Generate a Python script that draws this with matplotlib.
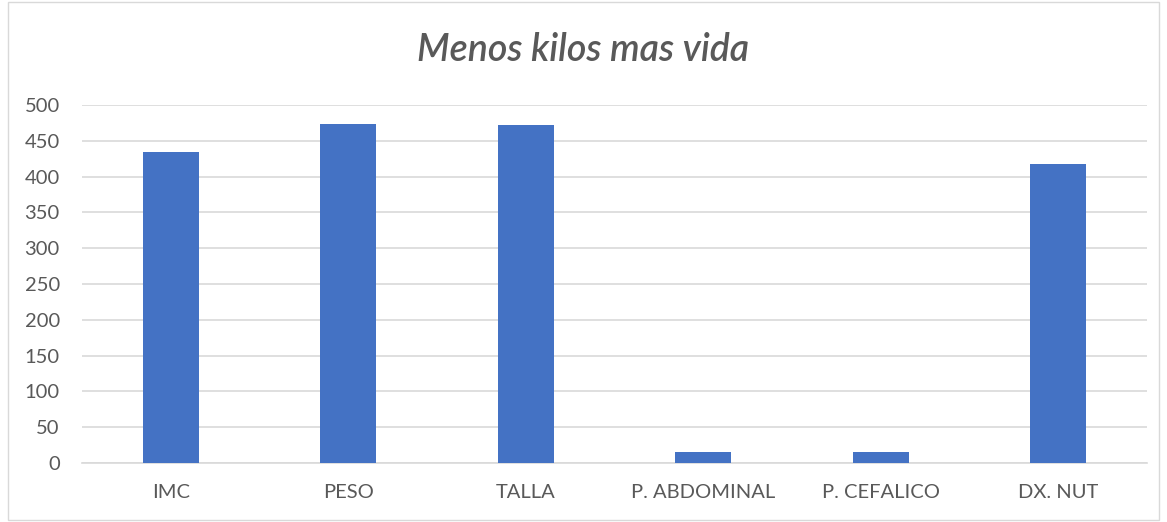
import matplotlib.pyplot as plt
from matplotlib.patches import Rectangle

plt.rcParams['font.family'] = ['Lato', 'DejaVu Sans']

# Data
categories = ['IMC', 'PESO', 'TALLA', 'P. ABDOMINAL', 'P. CEFALICO', 'DX. NUT']
values = [435, 473, 472, 15, 15, 417]
yticks = [0, 50, 100, 150, 200, 250, 300, 350, 400, 450, 500]

text_color = '#595959'
bar_color = '#4472C4'

fig = plt.figure(figsize=(11.67, 5.22), dpi=100)
ax = fig.add_axes([82 / 1167, 1 - 463 / 522, (1147 - 82) / 1167, (463 - 105) / 522])

ax.bar(categories, values, width=0.316, color=bar_color, zorder=3)

ax.set_ylim(0, 500)
ax.set_xlim(-0.5, len(categories) - 0.5)
ax.set_yticks(yticks)
ax.grid(axis='y', color='#d9d9d9', linewidth=1.2, zorder=0)
ax.tick_params(axis='both', length=0, labelsize=14.5, colors=text_color)
ax.tick_params(axis='y', pad=16)
ax.tick_params(axis='x', pad=15)
for s in ['top', 'right', 'left']:
    ax.spines[s].set_visible(False)
ax.spines['bottom'].set_color('#d9d9d9')
ax.spines['bottom'].set_linewidth(1.2)

fig.text(0.5, 1 - 50 / 522, 'Menos kilos mas vida', ha='center', va='center',
         fontsize=27, style='italic', fontweight='semibold', color=text_color)

# chart border
fig.patches.append(Rectangle((8 / 1167, 2 / 522), 1 - 16 / 1167, 1 - 4 / 522,
                             transform=fig.transFigure, fill=False,
                             edgecolor='#d9d9d9', linewidth=1))

fig.savefig('out.png', dpi=100)
